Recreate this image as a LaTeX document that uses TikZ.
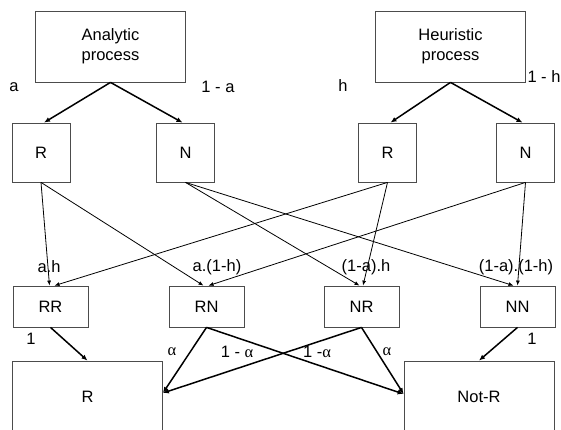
\documentclass[tikz,border=0pt]{standalone}
\usepackage{fontspec}
\setmainfont{Liberation Sans}
\newfontfamily\greekfont{Liberation Serif}
\usetikzlibrary{arrows.meta, math}

\begin{document}
\begin{tikzpicture}[x=1pt, y=-1pt,
  every node/.style={font=\fontsize{16.5}{20}\selectfont},
  procbox/.style={draw=black!70, line width=0.8pt, align=center, inner sep=0pt, minimum width=150, minimum height=71},
  resbox/.style={draw=black!70, line width=0.8pt, inner sep=0pt, minimum width=58, minimum height=59},
  pairbox/.style={draw=black!70, line width=0.8pt, inner sep=0pt, minimum width=75, minimum height=41},
  outbox/.style={draw=black!70, line width=0.8pt, inner sep=0pt, minimum width=150, minimum height=72},
  thickarrow/.style={-{Latex[length=6pt,width=5pt]}, line width=1.5pt},
  thinarrow/.style={-{Latex[length=5pt,width=4pt]}, line width=0.8pt},
  lbl/.style={inner sep=0pt}
]
\tikzmath{
\yA=46.5;
\yB=152.5;
\yC=306.5;
\yD=397;
}
\path[use as bounding box, clip] (0,0) rectangle (561,429);

%processes
\node[procbox] (ana) at (110.5,\yA) {Analytic\\process};
\node[procbox] (heu) at (450.5,\yA) {Heuristic\\process};
%first answers
\node[resbox] (aR) at (41,\yB) {R};
\node[resbox] (aN) at (185.5,\yB) {N};
\node[resbox] (hR) at (387.5,\yB) {R};
\node[resbox] (hN) at (525.5,\yB) {N};
%pairs
\node[pairbox] (RR) at (50.5,\yC) {RR};
\node[pairbox] (RN) at (206.5,\yC) {RN};
\node[pairbox] (NR) at (361.5,\yC) {NR};
\node[pairbox] (NN) at (517.5,\yC) {NN};
%outcomes
\node[outbox] (outR) at (87.5,\yD) {R};
\node[outbox] (outN) at (479,\yD) {Not-R};

\draw[thickarrow] (ana.south) -- ([xshift=3]aR.north);
\draw[thickarrow] (ana.south) -- ([xshift=-3]aN.north);
\draw[thickarrow] (heu.south) -- ([xshift=3]hR.north);
\draw[thickarrow] (heu.south) -- ([xshift=-3]hN.north);

%crossing
\draw[thinarrow] (aR.south) -- ([xshift=-1]RR.north);
\draw[thinarrow] (aR.south) -- ([xshift=-3]RN.north);
\draw[thinarrow] (aN.south) -- ([xshift=-2]NR.north);
\draw[thinarrow] (aN.south) -- ([xshift=-4]NN.north);
\draw[thinarrow] (hR.south) -- ([xshift=4]RR.north);
\draw[thinarrow] (hR.south) -- ([xshift=1.5]NR.north);
\draw[thinarrow] (hN.south) -- ([xshift=2]RN.north);
\draw[thinarrow] (hN.south) -- (NN.north);

%to outcomes
\draw[thickarrow] (RR.south) -- (outR.north);
\draw[thickarrow] (RN.south) -- ([yshift=4]outR.east);
\draw[thickarrow] (RN.south) -- ([yshift=3]outN.west);
\draw[thickarrow] (NR.south) -- ([yshift=4]outR.east);
\draw[thickarrow] (NR.south) -- ([yshift=3]outN.west);
\draw[thickarrow] (NN.south) -- (outN.north);

%probabilities
\node[lbl] (pa) at (14,87) {a};
\node[lbl] (pna) at (218,87) {1 - a};
\node[lbl] (ph) at (343,86) {h};
\node[lbl] (pnh) at (544,77) {1 - h};
\node[lbl] (pRR) at (49,267) {a.h};
\node[lbl] (pRN) at (217,267) {a.(1-h)};
\node[lbl] (pNR) at (366,267) {(1-a).h};
\node[lbl] (pNN) at (516,267) {(1-a).(1-h)};
\node[lbl] (oRR) at (31,339) {1};
\node[lbl] (oRNa) at (172,352) {\greekfont α};
\node[lbl] (oRNb) at (237,352) {1 - {\greekfont α}};
\node[lbl] (oNRb) at (317,352) {1 -{\greekfont α}};
\node[lbl] (oNRa) at (387,352) {\greekfont α};
\node[lbl] (oNN) at (532,339) {1};
\end{tikzpicture}
\end{document}
